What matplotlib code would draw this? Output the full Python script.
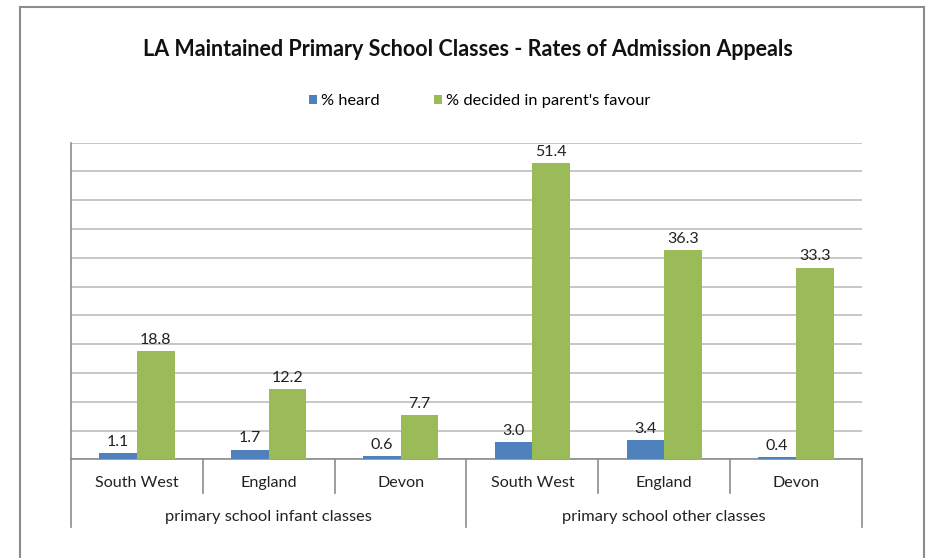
import numpy as np
import matplotlib
matplotlib.use('Agg')
import matplotlib.pyplot as plt
from matplotlib.patches import Rectangle
import matplotlib.transforms as mtransforms

# ── Data ──────────────────────────────────────────────────────────────────────
regions = ["South West", "England", "Devon", "South West", "England", "Devon"]
groups = ["primary school infant classes", "primary school other classes"]
pct_heard = [1.1, 1.7, 0.6, 3.0, 3.4, 0.4]
pct_favour = [18.8, 12.2, 7.7, 51.4, 36.3, 33.3]

BLUE = '#4F81BD'
GREEN = '#9BBB59'
GRID = '#BEBEBE'
AXIS = '#8C8C8C'
TXT = '#222222'

plt.rcParams['font.family'] = ['Lato', 'DejaVu Sans']

fig = plt.figure(figsize=(9.26, 5.58), dpi=100)
# chart-area frame
fig.patches.append(Rectangle((20 / 926, -0.01), (924 - 20) / 926, 1 - 7 / 558 + 0.01,
                             transform=fig.transFigure, fill=False,
                             edgecolor=AXIS, lw=1.5))

ax = fig.add_axes([71 / 926, 98.7 / 558, 791 / 926, 316.6 / 558])

x = np.arange(len(regions))
w = 1 / 3.5
b1 = ax.bar(x - w / 2, pct_heard, w, color=BLUE, label='% heard', zorder=3)
b2 = ax.bar(x + w / 2, pct_favour, w, color=GREEN,
            label="% decided in parent's favour", zorder=3)

for bars, vals in ((b1, pct_heard), (b2, pct_favour)):
    for r, v in zip(bars, vals):
        ax.annotate(f'{v:.1f}', (r.get_x() + r.get_width() / 2, v),
                    xytext=(0, 3), textcoords='offset points',
                    ha='center', va='bottom', fontsize=11.5, color=TXT)

ax.set_xlim(-0.5, len(regions) - 0.5)
ax.set_ylim(0, 55)
ax.set_yticks(np.arange(0, 56, 5))
ax.set_yticklabels([])
ax.tick_params(axis='y', length=0)
ax.set_xticks([])
ax.grid(axis='y', color=GRID, lw=1.2, zorder=0)
for s in ('top', 'right'):
    ax.spines[s].set_visible(False)
for s in ('left', 'bottom'):
    ax.spines[s].set_color(AXIS)
    ax.spines[s].set_linewidth(1.2)

# two-level category axis
trans = mtransforms.blended_transform_factory(ax.transData, ax.transAxes)
tick1 = -(493 - 459.3) / 316.6
tick2 = -(527 - 459.3) / 316.6
for xi in np.arange(-0.5, len(regions), 1.0):
    major = xi in (-0.5, 2.5, 5.5)
    ax.plot([xi, xi], [0, tick2 if major else tick1], transform=trans,
            color=AXIS, lw=1.2, clip_on=False)
for xi, name in zip(x, regions):
    ax.text(xi, -(483 - 459.3) / 316.6, name, transform=trans,
            ha='center', va='center', fontsize=11.6, color=TXT)
for gi, g in enumerate(groups):
    ax.text(gi * 3 + 1, -(517 - 459.3) / 316.6, g, transform=trans,
            ha='center', va='center', fontsize=11.8, color=TXT)

fig.text(468 / 926, 1 - 50 / 558,
         'LA Maintained Primary School Classes - Rates of Admission Appeals',
         ha='center', va='center', fontsize=15.5, fontweight='bold', color='#111111')

fig.legend(handles=[b1, b2], loc='center', bbox_to_anchor=(480 / 926, 1 - 101 / 558),
           ncol=2, frameon=False, fontsize=11.8, handlelength=0.5, handleheight=0.5,
           handletextpad=0.25, columnspacing=3.3, borderpad=0)

fig.savefig('out.png', dpi=100)
